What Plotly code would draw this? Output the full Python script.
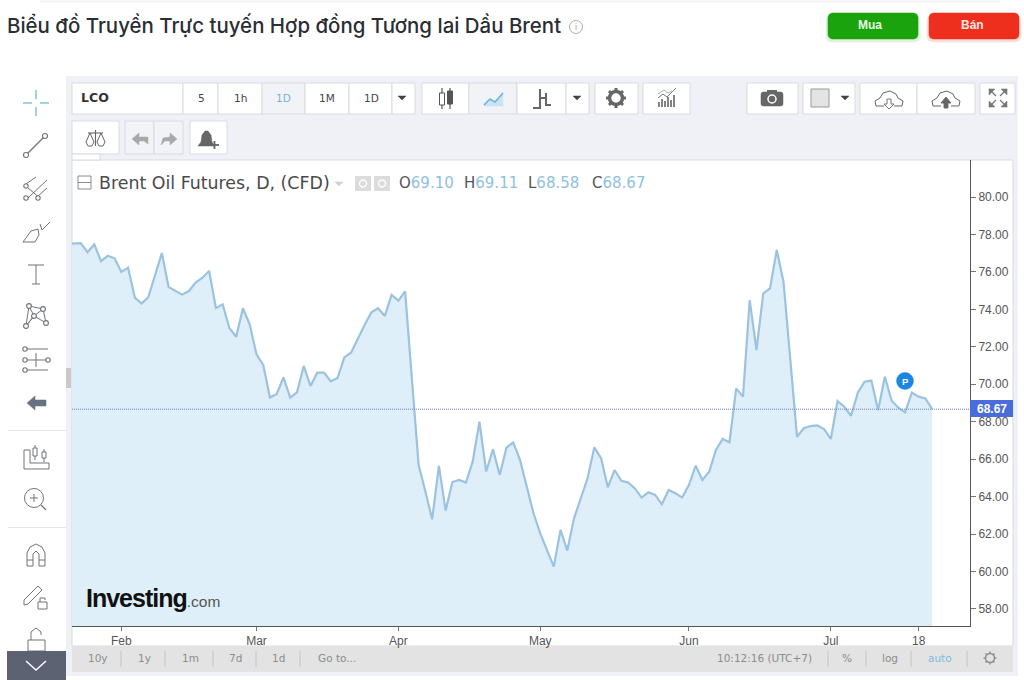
import plotly.graph_objects as go

# daily closes (first value sits just left of the frame)
closes = [
    77.5, 77.54, 77.54, 77.05, 77.47, 76.58, 76.87, 76.73, 76.0, 76.23, 74.63,
    74.31, 74.66, 75.84, 77.01, 75.2, 75.0, 74.79, 74.98, 75.43, 75.69,
    76.05, 74.07, 74.27, 72.99, 72.54, 74.06, 73.2, 71.6, 71.03, 69.29,
    69.48, 70.37, 69.29, 69.57, 70.98, 69.91, 70.62, 70.62, 70.16, 70.34,
    71.44, 71.69, 72.46, 73.17, 73.84, 74.06, 73.65, 74.77, 74.47, 74.96,
    70.3, 65.69, 64.27, 62.79, 65.64, 63.26, 64.78, 64.89, 64.75, 65.87,
    68.0, 65.34, 66.53, 65.16, 66.62, 66.89, 65.96, 64.5, 63.11, 62.04,
    61.2, 60.26, 62.22, 61.12, 62.84, 63.91, 64.98, 66.63, 66.05, 64.5,
    65.42, 64.84, 64.76, 64.44, 63.95, 64.23, 64.09, 63.59, 64.35, 64.18,
    63.95, 64.62, 65.65, 64.89, 65.33, 66.49, 67.08, 66.9, 69.78, 69.34,
    74.5, 71.83, 74.85, 75.12, 77.17, 75.48, 71.3, 67.2, 67.65, 67.77,
    67.8, 67.61, 67.08, 69.1, 68.8, 68.32, 69.55, 70.14, 70.2, 68.62,
    70.4, 69.12, 68.75, 68.5, 69.55, 69.34, 69.25, 68.67,
]
sessions = list(range(-1, len(closes) - 1))
last_close = closes[-1]

month_sessions = [7, 27, 48, 69, 91, 112, 125]
month_labels = ["Feb", "Mar", "Apr", "May", "Jun", "Jul", "18"]
price_ticks = [58, 60, 62, 64, 66, 68, 70, 72, 74, 76, 78, 80]
price_labels = ["%.2f" % p for p in price_ticks]
ohlc_names = ["O", "H", "L", "C"]
ohlc_values = ["69.10", "69.11", "68.58", "68.67"]

UI_FONT = "DejaVu Sans"
ARIAL = "Liberation Sans"
ICON = "#6f7378"
BORDER = "#d8dbe2"
PANEL = "#f0f1f6"

# frame of the plot in page pixels
L, R, T, B = 72, 970, 160, 626


def fx(px):
    return (px - L) / (R - L)


def fy(py):
    return (B - py) / (B - T)


shapes = []
notes = []


def rect(x0, y0, x1, y1, fill, line=None, width=1, layer="below"):
    shapes.append(dict(type="rect", xref="paper", yref="paper", layer=layer,
                       x0=fx(x0), x1=fx(x1), y0=fy(y0), y1=fy(y1), fillcolor=fill,
                       line=dict(color=line or fill, width=width if line else 0)))


def poly(pts, color=ICON, width=1.2, fill=None, closed=False, layer="below"):
    d = "M" + " L".join("%.5f %.5f" % (fx(x), fy(y)) for x, y in pts)
    if closed:
        d += " Z"
    shapes.append(dict(type="path", xref="paper", yref="paper", layer=layer, path=d,
                       fillcolor=fill or "rgba(0,0,0,0)",
                       line=dict(color=color, width=width)))


def circ(cx, cy, r, color=ICON, width=1.1, fill="#ffffff", layer="below"):
    shapes.append(dict(type="circle", xref="paper", yref="paper", layer=layer,
                       x0=fx(cx - r), x1=fx(cx + r), y0=fy(cy + r), y1=fy(cy - r),
                       fillcolor=fill, line=dict(color=color, width=width)))


def label(px, py, s, size=12, color="#444444", font=UI_FONT, anchor="center", weight=400):
    notes.append(dict(x=fx(px), y=fy(py), xref="paper", yref="paper", text=s,
                      showarrow=False, xanchor=anchor, yanchor="middle",
                      font=dict(size=size, color=color, family=font, weight=weight),
                      borderpad=0, borderwidth=0))


def caret(cx, cy, color="#444444"):
    poly([(cx - 4, cy - 2), (cx + 4, cy - 2), (cx, cy + 2)], color=color, width=0.5,
         fill=color, closed=True)


def rounded(x0, y0, x1, y1, r, fill):
    pts = [(x0 + r, y0), (x1 - r, y0), (x1 - r * 0.3, y0 + r * 0.3), (x1, y0 + r),
           (x1, y1 - r), (x1 - r * 0.3, y1 - r * 0.3), (x1 - r, y1), (x0 + r, y1),
           (x0 + r * 0.3, y1 - r * 0.3), (x0, y1 - r), (x0, y0 + r), (x0 + r * 0.3, y0 + r * 0.3)]
    poly(pts, color=fill, width=0.5, fill=fill, closed=True)


# page header
rect(40, 0, 1000, 3, "#f6f6f6")
label(7, 26, "Biểu đồ Truyền Trực tuyến Hợp đồng Tương lai Dầu Brent", 20.45, "#2a2e33",
      "Inter", "left", weight=500)
circ(576, 27, 6.5, color="#a9adb1", width=1)
label(576, 27, "i", 9, "#a0a4a8", ARIAL)
rounded(826, 15, 920, 42, 5, "#dff1dc")
rounded(927, 15, 1021, 42, 5, "#fbdedb")
rounded(828, 13, 918, 39, 4, "#1aa30c")
rounded(929, 13, 1019, 39, 4, "#ee2f1e")
label(870, 25, "<b>Mua</b>", 12, "#e8ffe4", ARIAL)
label(972, 25, "<b>Bán</b>", 12, "#ffe8e4", ARIAL)

# chart container and toolbars
rect(66, 76, 1018, 676, PANEL)
rect(72, 160, 1013, 646, "#ffffff", BORDER)
rect(72, 646, 1013, 672, "#e3e3e3")
rect(66, 368, 71, 388, "#c9c9c9")

for x0, x1, y0, y1, on in [(72, 183, 83, 114, 0), (183, 218, 83, 114, 0), (218, 262, 83, 114, 0),
                           (262, 305, 83, 114, 1), (305, 349, 83, 114, 0), (349, 392, 83, 114, 0),
                           (392, 415, 83, 114, 0), (422, 469, 83, 114, 0), (469, 517, 83, 114, 1),
                           (517, 566, 83, 114, 0), (566, 589, 83, 114, 0), (595, 638, 83, 114, 0),
                           (643, 690, 83, 114, 0), (747, 798, 83, 114, 0), (803, 855, 83, 114, 0),
                           (860, 917, 83, 114, 0), (917, 975, 83, 114, 0), (980, 1015, 83, 114, 0),
                           (72, 119, 121, 154, 0), (125, 154, 121, 154, 1), (154, 183, 121, 154, 1),
                           (190, 227, 121, 154, 0)]:
    rect(x0, y0, x1, y1, "#f2f3f6" if on else "#ffffff", BORDER)
rect(72, 154, 100, 160, "#ffffff", BORDER)

label(81, 98, "<b>LCO</b>", 12.5, "#333333", UI_FONT, "left")
for cx, s, c in [(201, "5", "#444444"), (240, "1h", "#444444"), (283, "1D", "#6fb3d8"),
                 (327, "1M", "#444444"), (371, "1D", "#444444")]:
    label(cx, 98, s, 10.5, c)
for cx in (402, 577, 845):
    caret(cx, 98)

# candles button
poly([(442, 88), (442, 109)], "#555555", 1.2)
rect(439.5, 93, 444.5, 105, "#ffffff", "#555555")
poly([(450, 88), (450, 109)], "#555555", 1.2)
rect(447.5, 91, 452.5, 104, "#555555", "#555555")
# line button
poly([(484, 105), (490, 99), (495, 102), (503, 93), (503, 106), (484, 106)], "#c9e3f3", 0.5,
     fill="#c9e3f3", closed=True)
poly([(484, 105), (490, 99), (495, 102), (503, 93)], "#6fb3d8", 1.6)
# bars button
poly([(540, 89), (540, 108), (533, 108)], "#666666", 2)
poly([(546, 93), (546, 105), (551, 105)], "#666666", 2)
poly([(546, 98), (541, 98)], "#666666", 2)
# gear
circ(616, 98, 6.5, "#666666", 3.5, "#ffffff")
for a, b, c, d in [(616, 88, 616, 108), (606, 98, 626, 98), (609, 91, 623, 105), (623, 91, 609, 105)]:
    poly([(a, b), (a + (c - a) * 0.15, b + (d - b) * 0.15)], "#666666", 3)
    poly([(c, d), (c - (c - a) * 0.15, d - (d - b) * 0.15)], "#666666", 3)
# indicators
for x, h in [(659, 5), (662, 8), (665, 6), (668, 10), (671, 7), (674, 12)]:
    poly([(x, 107), (x, 107 - h)], "#777777", 1.8)
poly([(658, 98), (663, 94), (667, 97), (676, 88)], "#777777", 1)
poly([(658, 94), (664, 90), (668, 93), (672, 91)], "#999999", 0.8)
# camera
rounded(761, 92, 783, 106, 2, "#666666")
rect(767, 90, 777, 93, "#666666")
circ(772, 99, 4, "#ffffff", 1.5, "#666666")
# colour swatch
rect(811, 89, 829, 107, "#e4e4e4", "#999999")
# clouds
for cx, arrow_fill, up in [(889, "#ffffff", False), (946, "#666666", True)]:
    poly([(cx - 13, 106), (cx - 14, 101), (cx - 9, 98), (cx - 6, 93), (cx + 1, 91), (cx + 7, 94),
          (cx + 9, 98), (cx + 14, 101), (cx + 13, 106), (cx + 5, 106)], "#666666", 1)
    poly([(cx - 13, 106), (cx - 5, 106)], "#666666", 1)
    if up:
        poly([(cx - 2, 108), (cx + 2, 108), (cx + 2, 103), (cx + 5, 103), (cx, 97), (cx - 5, 103), (cx - 2, 103)],
             "#666666", 0.9, fill=arrow_fill, closed=True)
    else:
        poly([(cx - 2, 99), (cx + 2, 99), (cx + 2, 104), (cx + 5, 104), (cx, 109), (cx - 5, 104), (cx - 2, 104)],
             "#666666", 0.9, fill=arrow_fill, closed=True)
# expand
for x, y, dx, dy in [(989, 89, 1, 1), (1007, 89, -1, 1), (989, 107, 1, -1), (1007, 107, -1, -1)]:
    poly([(x, y), (x + 6 * dx, y), (x, y + 6 * dy)], "#777777", 0.5, fill="#777777", closed=True)
    poly([(x, y), (x + 7 * dx, y + 7 * dy)], "#777777", 1.3)
# scales
poly([(88, 133), (103, 133)], "#666666", 1.1)
poly([(95.5, 130), (95.5, 146)], "#666666", 1.1)
for cx in (90, 101):
    poly([(cx - 4, 142), (cx, 133), (cx + 4, 142), (cx + 2, 146), (cx - 2, 146)], "#666666", 1, closed=True)
# undo and redo
poly([(132, 139), (139, 133), (139, 137), (148, 137), (148, 144), (144, 141), (139, 141), (139, 145)],
     "#a8a8a8", 0.5, fill="#a8a8a8", closed=True)
poly([(177, 139), (170, 133), (170, 137), (163, 138), (161, 145), (165, 141), (170, 141), (170, 145)],
     "#a8a8a8", 0.5, fill="#a8a8a8", closed=True)
# alert bell
poly([(198, 146), (201, 142), (202, 135), (205, 131), (208, 131), (211, 135), (212, 142), (215, 146)],
     "#666666", 0.5, fill="#666666", closed=True)
poly([(210, 145), (219, 145)], "#666666", 1.8)
poly([(214.5, 141), (214.5, 149)], "#666666", 1.8)

# side tools
poly([(36, 90), (36, 99)], "#5fb7bf", 1.2)
poly([(36, 107), (36, 116)], "#5fb7bf", 1.2)
poly([(23, 103), (32, 103)], "#5fb7bf", 1.2)
poly([(40, 103), (49, 103)], "#5fb7bf", 1.2)
poly([(26, 155), (45, 136)])
circ(26, 155, 2.5)
circ(45, 136, 2.5)
poly([(26, 184), (36, 177)], width=1)
poly([(28, 198), (47, 180)], width=1)
poly([(28, 188), (40, 198)], width=1)
poly([(37, 197), (47, 188)], width=1)
for cx, cy in [(26, 186), (26, 198), (38, 198)]:
    circ(cx, cy, 2.2)
poly([(23, 242), (31, 231), (38, 229), (39, 235), (35, 242), (23, 242)], width=1)
poly([(40, 224), (42, 230), (50, 222)], width=1)
poly([(28, 265), (44, 265)], width=1)
poly([(36, 265), (36, 284)], width=1)
poly([(32, 284), (40, 284)], width=1)
poly([(29, 306), (34, 316), (26, 326), (34, 316), (43, 309), (46, 323), (34, 316)], width=1)
poly([(29, 306), (26, 326)], width=1)
poly([(43, 309), (29, 306)], width=1)
for cx, cy in [(29, 306), (43, 309), (34, 316), (26, 326), (46, 323)]:
    circ(cx, cy, 2.4)
poly([(25, 349), (48, 349)], width=1)
poly([(25, 360), (48, 360)], width=1)
poly([(25, 370), (48, 370)], width=1)
poly([(36, 353), (36, 367)], width=1)
for cx, cy in [(25, 349), (25, 360), (48, 360), (25, 370)]:
    circ(cx, cy, 2.2)
poly([(27, 403), (35, 396), (35, 400), (46, 400), (46, 406), (35, 406), (35, 410)], "#66727f", 0.5,
     fill="#66727f", closed=True)
rect(8, 430, 66, 431, "#e6e6e6")
rect(8, 527, 66, 528, "#e6e6e6")
poly([(24, 450), (24, 469), (49, 469), (49, 463), (30, 463), (30, 450), (24, 450)], width=1)
for cx, y0, y1, y2, y3 in [(35, 445, 448, 456, 460), (44, 449, 452, 458, 462)]:
    rect(cx - 2, y1, cx + 2, y2, "#ffffff", ICON)
    poly([(cx, y0), (cx, y1)], width=1)
    poly([(cx, y2), (cx, y3)], width=1)
circ(34, 498, 9.5, width=1)
poly([(41, 505), (46, 510)], width=1.2)
poly([(30, 498), (38, 498)], width=1)
poly([(34, 494), (34, 502)], width=1)
poly([(27, 566), (27, 553), (30, 547), (36, 544), (42, 547), (45, 553), (45, 566), (39, 566), (39, 554),
      (36, 551), (33, 554), (33, 566), (27, 566)], width=1)
poly([(27, 560), (33, 560)], width=1)
poly([(39, 560), (45, 560)], width=1)
poly([(24, 600), (38, 586), (42, 590), (28, 604), (24, 605), (24, 600)], width=1)
rect(38, 602, 47, 609, "#ffffff", ICON)
poly([(40, 602), (40, 598), (45, 598), (45, 600)], width=1)
rect(28, 640, 45, 651, "#ffffff", ICON)
poly([(31, 640), (31, 632), (36, 628), (41, 632), (41, 635)], width=1)
rect(7, 651, 66, 680, "#5d6272")
poly([(26, 661), (36, 670), (46, 661)], "#ffffff", 1.4)

# bottom strip
for cx, s in [(98, "10y"), (144, "1y"), (190, "1m"), (235, "7d"), (278, "1d"), (337, "Go to...")]:
    label(cx, 658, s, 10.5, "#8c8c8c")
for x in (121, 165, 213, 256, 300):
    poly([(x, 651), (x, 667)], "#c4c4c4", 1)
label(764, 658, "10:12:16 (UTC+7)", 10.5, "#8c8c8c")
label(847, 658, "%", 10.5, "#8c8c8c")
label(890, 658, "log", 10.5, "#8c8c8c")
label(940, 658, "auto", 10.5, "#7fbddd")
for x in (828, 866, 911, 967):
    poly([(x, 651), (x, 667)], "#c4c4c4", 1)
circ(990, 658, 4.5, "#8c8c8c", 1.4, "#e3e3e3")
for a, b, c, d in [(990, 651.5, 990, 664.5), (983.5, 658, 996.5, 658), (985.5, 653.5, 994.5, 662.5),
                   (994.5, 653.5, 985.5, 662.5)]:
    poly([(a, b), (a + (c - a) * 0.2, b + (d - b) * 0.2)], "#8c8c8c", 1.4)
    poly([(c, d), (c - (c - a) * 0.2, d - (d - b) * 0.2)], "#8c8c8c", 1.4)

# legend inside the chart
rect(78, 176, 91, 189, "#ffffff", "#8a8a8a")
poly([(78, 182.5), (91, 182.5)], "#8a8a8a", 1)
label(99, 183, "Brent Oil Futures, D, (CFD)", 17.4, "#4a4a4a", UI_FONT, "left")
poly([(335, 182), (343, 182), (339, 186)], "#d0d0d0", 0.5, fill="#d0d0d0", closed=True)
rect(355, 176, 371, 191, "#dcdcdc")
rect(374, 176, 390, 191, "#dcdcdc")
circ(363, 183.5, 3.5, "#ffffff", 1.4, "#dcdcdc")
circ(382, 183.5, 3.5, "#ffffff", 1.4, "#dcdcdc")
for px, n, v in zip([399, 464, 528, 592], ohlc_names, ohlc_values):
    label(px, 183, '<span style="color:#555555">%s</span>%s' % (n, v), 15, "#8fc1dd", UI_FONT, "left")

# watermark
label(86, 598, '<span style="color:#111111;letter-spacing:-1px"><b>Investing</b></span>'
      '<span style="font-size:15.5px;color:#555555">.com</span>', 25, "#111111", ARIAL, "left")

# last price marker and line
shapes.append(dict(type="line", xref="paper", yref="y", x0=0, x1=1, y0=last_close, y1=last_close,
                   line=dict(color="#6f86c6", width=1, dash="1px,1px")))
rect(970, 400, 1013, 417, "#4a6ddb", layer="above")
label(992, 408.5, "<b>%.2f</b>" % last_close, 12, "#ffffff", ARIAL)
circ(905, 381, 8.5, "#1a86e2", 0.5, "#1a86e2", layer="above")
label(905, 381, "<b>P</b>", 9.5, "#ffffff", ARIAL)

fig = go.Figure()
fig.add_trace(go.Scatter(x=sessions, y=closes, mode="lines", fill="tozeroy",
                         fillcolor="#deeff9", line=dict(color="#9bc3e0", width=2.2),
                         hoverinfo="skip", showlegend=False))

fig.update_layout(
    width=1024, height=680,
    margin=dict(l=L, r=1024 - R, t=T, b=680 - B, pad=0),
    paper_bgcolor="#ffffff", plot_bgcolor="rgba(0,0,0,0)",
    shapes=shapes, annotations=notes,
)
fig.update_xaxes(range=[-0.3, 132.6], tickmode="array", tickvals=month_sessions, ticktext=month_labels,
                 showgrid=False, zeroline=False, showline=True, linecolor="#555555", linewidth=1,
                 ticks="outside", ticklen=4, tickcolor="#777777",
                 tickfont=dict(size=12, color="#555555", family=ARIAL))
fig.update_yaxes(range=[57.09, 81.98], side="right", tickmode="array", tickvals=price_ticks,
                 ticktext=price_labels, showgrid=False, zeroline=False, showline=True,
                 linecolor="#555555", linewidth=1, ticks="outside", ticklen=5, tickcolor="#777777",
                 tickfont=dict(size=12, color="#555555", family=ARIAL))

# page body has a default margin that would push the figure off by 8px
fig.write_html("out.html", config={"displayModeBar": False},
               post_script="document.body.style.margin='0';")
